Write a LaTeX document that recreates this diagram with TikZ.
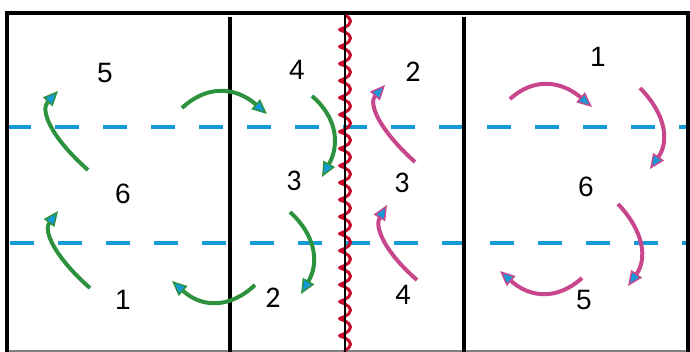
\documentclass[tikz,border=0pt]{standalone}
\usepackage{fontspec}
\setmainfont{Liberation Sans}
\newfontfamily\calfont{Carlito}
\usetikzlibrary{arrows.meta,calc,decorations.pathmorphing}
\definecolor{frgreen}{RGB}{44,146,62}
\definecolor{frpink}{RGB}{200,70,140}
\definecolor{frblue}{RGB}{20,155,215}
\definecolor{frred}{RGB}{200,10,45}
\tikzset{
  border/.style={line width=4pt},
  netline/.style={frblue,line width=4pt,dash pattern=on 24pt off 24pt},
  num/.style={font=\fontsize{28}{30}\selectfont,inner sep=0pt},
  cnum/.style={font=\calfont\fontsize{30}{32}\selectfont,inner sep=0pt},
  rot/.style={line width=4pt,-{Triangle[length=15pt,width=13pt,line width=1.5pt,fill=frblue]}},
}
\newcommand\turnarrow[4]{% #1 colour, #2 start, #3 middle, #4 end
  \coordinate (q) at ($2*(#3)-0.5*(#2)-0.5*(#4)$);
  \draw[rot,#1] (#2) .. controls ($(#2)!0.6667!(q)$) and ($(#4)!0.6667!(q)$) .. (#4);
}
\begin{document}
\begin{tikzpicture}[x=1pt,y=-1pt]
\useasboundingbox (0,0) rectangle (690,352);
% net lines
\draw[netline] (7,127) -- (686,127);
\draw[netline,dash phase=-3pt] (7,243) -- (686,243);
% court borders
\draw[gray,line width=1.5pt] (7,351) -- (688,351);
\draw[border] (7,13) -- (690,13);
\draw[border] (7,11) -- (7,352);
\draw[border] (688,11) -- (688,352);
\draw[border] (230,17) -- (230,352);
\draw[border] (464,17) -- (464,352);
% centre line with squiggle
\draw[frred,line width=3pt,line join=round,decorate,decoration={coil,segment length=17pt,amplitude=5.5pt,aspect=0.35}] (345,15) -- (345,352);
\draw[line width=1.8pt] (345,13) -- (345,352);
% numbers
\node[num] (l5) at (105,73) {5};
\node[num] (l6) at (123,194) {6};
\node[num] (l1) at (123,300) {1};
\node[num] (ml4) at (297,70) {4};
\node[cnum] (ml3) at (294,181) {3};
\node[cnum] (ml2) at (273,298) {2};
\node[cnum] (mr2) at (413,72) {2};
\node[cnum] (mr3) at (402,183) {3};
\node[cnum] (mr4) at (403,295) {4};
\node[num] (r1) at (598,57) {1};
\node[num] (r6) at (586,187) {6};
\node[num] (r5) at (584,300) {5};
% arrow coordinates
\coordinate (s1) at (88,170);  \coordinate (m1) at (52,125);  \coordinate (e1) at (58,91);
\coordinate (s2) at (90,288);  \coordinate (m2) at (55,245);  \coordinate (e2) at (58,211);
\coordinate (s3) at (255,285); \coordinate (m3) at (215,302); \coordinate (e3) at (172,281);
\coordinate (s4) at (182,108); \coordinate (m4) at (222,92);  \coordinate (e4) at (267,114);
\coordinate (s5) at (312,96);  \coordinate (m5) at (333,132); \coordinate (e5) at (322,177);
\coordinate (s6) at (290,212); \coordinate (m6) at (312,250); \coordinate (e6) at (301,294);
\coordinate (s7) at (415,162); \coordinate (m7) at (380,118); \coordinate (e7) at (385,85);
\coordinate (s8) at (417,280); \coordinate (m8) at (385,240); \coordinate (e8) at (387,205);
\coordinate (s9) at (510,99);  \coordinate (m9) at (548,85);  \coordinate (e9) at (592,107);
\coordinate (s10) at (640,88); \coordinate (m10) at (662,128); \coordinate (e10) at (650,169);
\coordinate (s11) at (618,204); \coordinate (m11) at (640,245); \coordinate (e11) at (628,286);
\coordinate (s12) at (582,278); \coordinate (m12) at (543,293); \coordinate (e12) at (500,271);
\turnarrow{frgreen}{s1}{m1}{e1}
\turnarrow{frgreen}{s2}{m2}{e2}
\turnarrow{frgreen}{s3}{m3}{e3}
\turnarrow{frgreen}{s4}{m4}{e4}
\turnarrow{frgreen}{s5}{m5}{e5}
\turnarrow{frgreen}{s6}{m6}{e6}
\turnarrow{frpink}{s7}{m7}{e7}
\turnarrow{frpink}{s8}{m8}{e8}
\turnarrow{frpink}{s9}{m9}{e9}
\turnarrow{frpink}{s10}{m10}{e10}
\turnarrow{frpink}{s11}{m11}{e11}
\turnarrow{frpink}{s12}{m12}{e12}
\end{tikzpicture}
\end{document}
